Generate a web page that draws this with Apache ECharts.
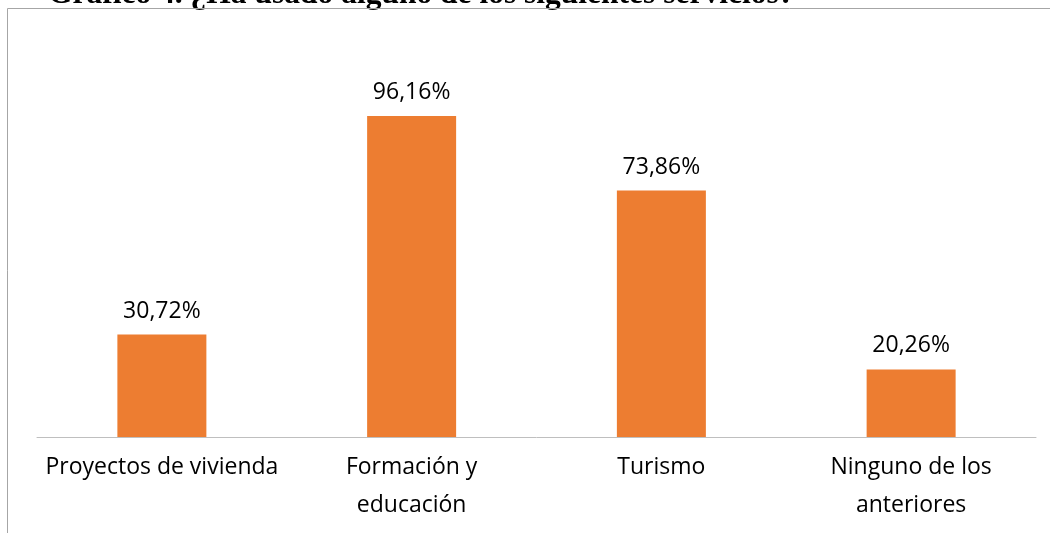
<!DOCTYPE html>
<html><head><meta charset="utf-8">
<script src="https://cdn.jsdelivr.net/npm/echarts@6/dist/echarts.min.js"></script>
<style>html,body{margin:0;padding:0;background:#fff}#c{width:1050px;height:533px}</style>
</head><body><div id="c"></div>
<script>
const titleText = "Gráfico 4. ¿Ha usado alguno de los siguientes servicios?";
const categories = ["Proyectos de vivienda", "Formación y\neducación", "Turismo", "Ninguno de los\nanteriores"];
const values = [30.72, 96.16, 73.86, 20.26];

const chart = echarts.init(document.getElementById('c'), null, {renderer: 'canvas'});
chart.setOption({
  animation: false,
  backgroundColor: '#fff',
  graphic: [
    {type: 'text', left: 48, top: -21.5, z: 1, style: {text: titleText, font: 'bold 31.5px "Liberation Serif"', fill: '#000'}, silent: true},
    {type: 'line', z: 2, shape: {x1: 7.5, y1: 8.5, x2: 1050, y2: 8.5}, style: {stroke: '#a6a6a6', lineWidth: 1}, silent: true},
    {type: 'line', z: 2, shape: {x1: 7.5, y1: 8.5, x2: 7.5, y2: 533}, style: {stroke: '#a6a6a6', lineWidth: 1}, silent: true}
  ],
  grid: {left: 37, right: 14, top: 36.5, bottom: 96, containLabel: false},
  xAxis: {
    type: 'category', data: categories,
    axisLine: {lineStyle: {color: '#bfbfbf', width: 1}},
    axisTick: {show: false},
    axisLabel: {color: '#000', fontFamily: 'Open Sans', fontSize: 23, lineHeight: 38, margin: 11, interval: 0}
  },
  yAxis: {type: 'value', min: 0, max: 120, show: false, splitLine: {show: false}},
  series: [{
    type: 'bar', data: values, barWidth: 89,
    itemStyle: {color: '#ED7D31'},
    label: {show: true, position: 'top', distance: 12, color: '#000', fontFamily: 'Open Sans', fontSize: 23,
      formatter: p => p.value.toFixed(2).replace('.', ',') + '%'}
  }]
});
</script></body></html>
